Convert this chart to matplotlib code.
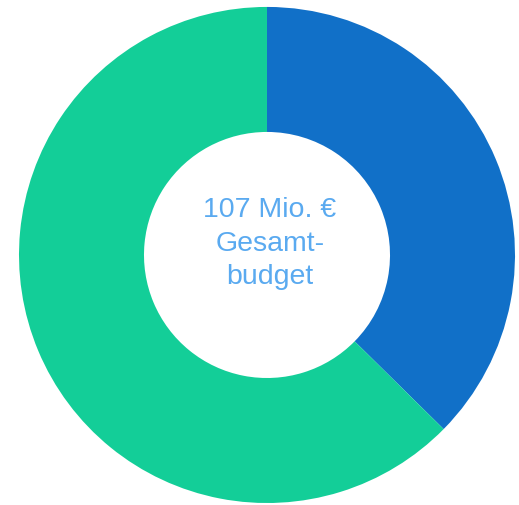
import matplotlib.pyplot as plt

# Budget split (Mio. €)
labels = ["Anteil A", "Anteil B"]
values = [40, 67]
colors = ["#1170c8", "#13ce98"]
center_text = "107 Mio. €\nGesamt-\nbudget"

fig = plt.figure(figsize=(5.19, 5.06), dpi=100)
ax = fig.add_axes([0, 0, 1, 1])

ax.pie(values, colors=colors, startangle=90, counterclock=False,
       radius=1.0, wedgeprops=dict(width=0.504, linewidth=0))

ax.text(0.012, 0.05, center_text, ha="center", va="center",
        multialignment="center", fontsize=20.5, color="#5aaaf0",
        family="Liberation Sans", linespacing=1.38)

ax.set_xlim(-1.0766, 1.0161)
ax.set_ylim(-1.008, 1.032)
ax.set_aspect("auto")
ax.axis("off")

fig.savefig("out.png", dpi=100)
